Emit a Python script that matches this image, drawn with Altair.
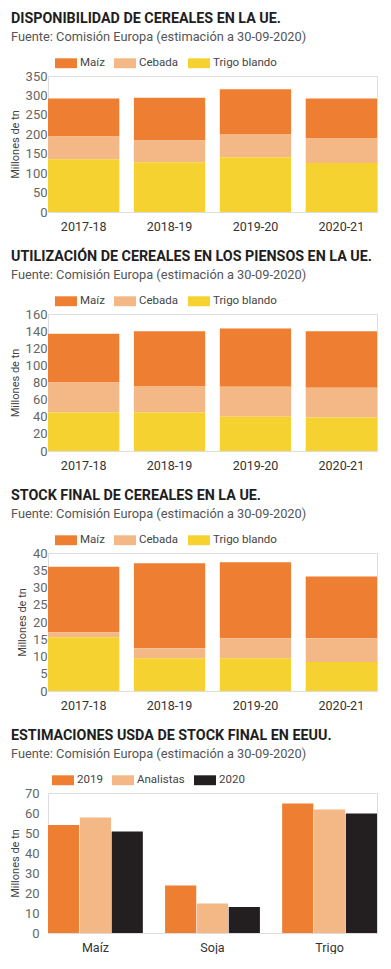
import altair as alt
import pandas as pd

# ---------------- data ----------------
years = ["2017-18", "2018-19", "2019-20", "2020-21"]
cereales = ["Maíz", "Cebada", "Trigo blando"]

disp_maiz = [98, 110, 115, 103]
disp_cebada = [58, 56, 60, 63]
disp_trigo = [136, 128, 141, 126]

pien_maiz = [57, 64, 68, 66]
pien_cebada = [35, 31, 35, 35]
pien_trigo = [45, 45, 40, 39]

stock_maiz = [19.0, 24.6, 22.0, 17.9]
stock_cebada = [1.4, 2.9, 5.8, 6.9]
stock_trigo = [15.6, 9.5, 9.5, 8.4]

usda_cats = ["Maíz", "Soja", "Trigo"]
usda_series = ["2019", "Analistas", "2020"]
usda_2019 = [54.0, 23.7, 64.7]
usda_analistas = [57.7, 14.7, 61.7]
usda_2020 = [50.7, 13.0, 59.7]

SUB = "Fuente: Comisión Europa (estimación a 30-09-2020)"

# ---------------- styles ----------------
FONT = "Roboto"
ORANGE = "#EE7F32"
PEACH = "#F4B886"
YELLOW = "#F5D22F"
BLACK = "#231F20"
RECT = "M-1,-0.45L1,-0.45L1,0.45L-1,0.45Z"


def title_params(text):
    return alt.TitleParams(
        text=text, subtitle=SUB, anchor="start", frame="group", dx=-37,
        font=FONT, fontSize=14.3, fontWeight="bold", color="#1e1e1e",
        subtitleFont=FONT, subtitleFontSize=12.8, subtitleColor="#555555",
        subtitlePadding=5, offset=8,
    )


def legend_params(x):
    return alt.Legend(
        title=None, orient="none", legendX=x, legendY=-24, direction="horizontal",
        symbolType=RECT, symbolSize=484, symbolStrokeWidth=0, symbolOpacity=1,
        labelFont=FONT, labelFontSize=11.5, labelColor="#444444",
        labelOffset=3, columnPadding=9,
    )


def y_axis(values, pad, tpad):
    return alt.Axis(values=values, title="Millones de tn", grid=False, ticks=False,
                    domain=False, labelPadding=pad, labelFont=FONT,
                    labelFontSize=13, labelColor="#666666",
                    titleFont=FONT, titleFontSize=11, titleFontWeight="normal",
                    titleColor="#444444", titlePadding=tpad)


def x_axis():
    return alt.Axis(title=None, labelAngle=0, ticks=False, domain=False,
                    labelPadding=8, labelFont=FONT, labelFontSize=12.5,
                    labelColor="#333333")


def stacked(title, maiz, cebada, trigo, ymax, step, height):
    rows = []
    for i, yr in enumerate(years):
        rows.append({"year": yr, "cereal": "Maíz", "value": maiz[i], "ord": 2})
        rows.append({"year": yr, "cereal": "Cebada", "value": cebada[i], "ord": 1})
        rows.append({"year": yr, "cereal": "Trigo blando", "value": trigo[i], "ord": 0})
    df = pd.DataFrame(rows)
    return alt.Chart(df, title=title_params(title)).mark_bar().encode(
        x=alt.X("year:N", sort=years,
                scale=alt.Scale(paddingInner=0.17, paddingOuter=0),
                axis=x_axis()),
        y=alt.Y("value:Q", stack="zero",
                scale=alt.Scale(domain=[0, ymax], nice=False),
                axis=y_axis(list(range(0, ymax + 1, step)), 1, 5)),
        color=alt.Color("cereal:N",
                        scale=alt.Scale(domain=cereales, range=[ORANGE, PEACH, YELLOW]),
                        legend=legend_params(7)),
        order=alt.Order("ord:Q"),
    ).properties(width=329, height=height)


c1 = stacked("DISPONIBILIDAD DE CEREALES EN LA UE.", disp_maiz, disp_cebada, disp_trigo, 350, 50, 136)
c2 = stacked("UTILIZACIÓN DE CEREALES EN LOS PIENSOS EN LA UE.", pien_maiz, pien_cebada, pien_trigo, 160, 20, 137)
c3 = stacked("STOCK FINAL DE CEREALES EN LA UE.", stock_maiz, stock_cebada, stock_trigo, 40, 5, 138)

rows = []
for i, c in enumerate(usda_cats):
    rows.append({"cat": c, "serie": "2019", "value": usda_2019[i]})
    rows.append({"cat": c, "serie": "Analistas", "value": usda_analistas[i]})
    rows.append({"cat": c, "serie": "2020", "value": usda_2020[i]})
df4 = pd.DataFrame(rows)

c4 = alt.Chart(df4, title=title_params("ESTIMACIONES USDA DE STOCK FINAL EN EEUU.")).mark_bar().encode(
    x=alt.X("cat:N", sort=usda_cats,
            scale=alt.Scale(paddingInner=0.19, paddingOuter=0),
            axis=x_axis()),
    xOffset=alt.XOffset("serie:N", sort=usda_series, scale=alt.Scale(paddingInner=0.02)),
    y=alt.Y("value:Q", scale=alt.Scale(domain=[0, 70], nice=False),
            axis=y_axis(list(range(0, 71, 10)), 9, 4)),
    color=alt.Color("serie:N",
                    scale=alt.Scale(domain=usda_series, range=[ORANGE, PEACH, BLACK]),
                    legend=legend_params(4)),
).properties(width=329, height=140)

chart = alt.vconcat(c1, c2, c3, c4, spacing=16).resolve_scale(
    color="independent", x="independent", y="independent"
).resolve_legend(color="independent").properties(
    padding={"left": 0, "top": 3, "right": 0, "bottom": 0}
).configure_view(stroke=None).configure(background="white")

chart.save("out.html", embed_options={"renderer": "svg", "actions": False})
